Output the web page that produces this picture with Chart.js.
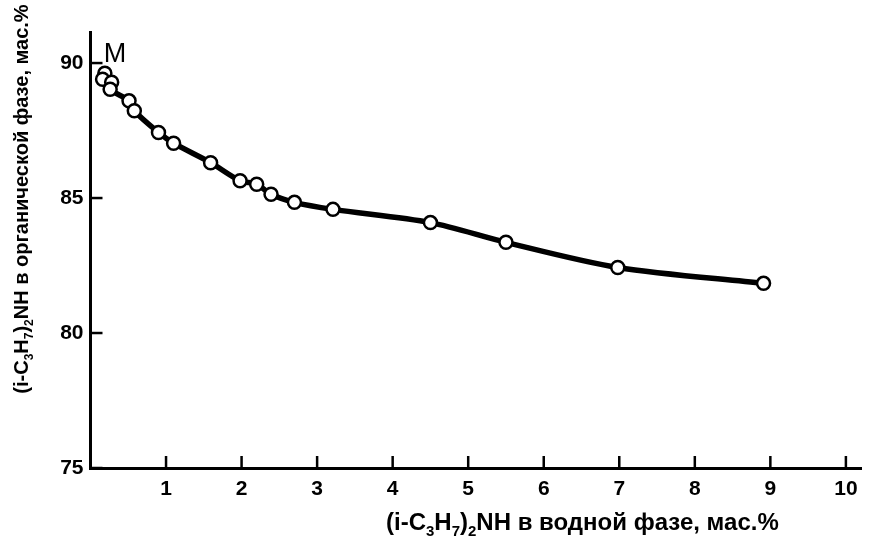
<!DOCTYPE html>
<html>
<head>
<meta charset="utf-8">
<script src="https://cdn.jsdelivr.net/npm/chart.js@4"></script>
<style>
  body { margin: 0; background: #fff; }
  canvas { display: block; }
</style>
</head>
<body>
<canvas id="chart" width="870" height="540"></canvas>
<script>
// points, in order along the curve
xValues = [0.19, 0.16, 0.28, 0.26, 0.51, 0.58, 0.90, 1.10, 1.59, 1.98, 2.20, 2.39, 2.70, 3.21, 4.50, 5.50, 6.98, 8.91];
yValues = [89.62, 89.40, 89.29, 89.03, 88.60, 88.23, 87.43, 87.03, 86.31, 85.64, 85.51, 85.14, 84.84, 84.58, 84.09, 83.36, 82.43, 81.84];
xTicks = [1, 2, 3, 4, 5, 6, 7, 8, 9, 10];
yTicks = [75, 80, 85, 90];

var points = [];
for (var i = 0; i < xValues.length; i++) {
  points.push({x: xValues[i], y: yValues[i]});
}

var FONT = '"Liberation Sans", Arial, sans-serif';

// text with subscripts: parts with sub=true are drawn smaller and lower
function drawRich(ctx, parts, x, y, size) {
  var cx = x;
  for (var i = 0; i < parts.length; i++) {
    var p = parts[i];
    ctx.font = 'bold ' + (p.sub ? Math.round(size * 0.62) : size) + 'px ' + FONT;
    ctx.fillText(p.t, cx, p.sub ? y + size * 0.25 : y);
    cx += ctx.measureText(p.t).width;
  }
  return cx - x;
}
function richWidth(ctx, parts, size) {
  var w = 0;
  for (var i = 0; i < parts.length; i++) {
    var p = parts[i];
    ctx.font = 'bold ' + (p.sub ? Math.round(size * 0.62) : size) + 'px ' + FONT;
    w += ctx.measureText(p.t).width;
  }
  return w;
}

xTitle = [{t: '(i-C'}, {t: '3', sub: true}, {t: 'H'}, {t: '7', sub: true}, {t: ')'}, {t: '2', sub: true}, {t: 'NH в водной фазе, мас.%'}];
yTitle = [{t: '(i-C'}, {t: '3', sub: true}, {t: 'H'}, {t: '7', sub: true}, {t: ')'}, {t: '2', sub: true}, {t: 'NH в органической фазе, мас.%'}];

var extras = {
  id: 'extras',
  afterDraw: function(chart) {
    var ctx = chart.ctx;
    var xs = chart.scales.x, ys = chart.scales.y;
    var area = chart.chartArea;
    ctx.save();
    ctx.strokeStyle = '#000';
    ctx.lineWidth = 2.5;
    // inward tick marks
    xTicks.forEach(function(v) {
      var px = xs.getPixelForValue(v);
      ctx.beginPath();
      ctx.moveTo(px, area.bottom);
      ctx.lineTo(px, area.bottom - 12);
      ctx.stroke();
    });
    yTicks.forEach(function(v) {
      var py = ys.getPixelForValue(v);
      ctx.beginPath();
      ctx.moveTo(area.left, py);
      ctx.lineTo(area.left + 12, py);
      ctx.stroke();
    });
    ctx.fillStyle = '#000';
    ctx.textBaseline = 'alphabetic';
    // point label M
    ctx.font = '27px ' + FONT;
    ctx.textAlign = 'left';
    ctx.fillText('M', xs.getPixelForValue(xValues[0]) - 1, ys.getPixelForValue(90) - 1);
    // axis titles
    drawRich(ctx, xTitle, 386, 530, 24);
    ctx.translate(28, 0);
    ctx.rotate(-Math.PI / 2);
    var w = richWidth(ctx, yTitle, 20);
    drawRich(ctx, yTitle, -199 - w / 2, 0, 20);
    ctx.restore();
  }
};

new Chart(document.getElementById('chart'), {
  type: 'line',
  data: {
    datasets: [{
      data: points,
      borderColor: '#000',
      borderWidth: 5.5,
      tension: 0.3,
      pointRadius: 6.5,
      pointBorderWidth: 2.5,
      pointBackgroundColor: '#fff',
      pointBorderColor: '#000'
    }]
  },
  options: {
    responsive: false,
    animation: false,
    events: [],
    layout: { padding: { top: 32, right: 2 } },
    plugins: { legend: { display: false }, tooltip: { enabled: false } },
    scales: {
      x: {
        type: 'linear',
        min: 0,
        max: 10.2,
        afterBuildTicks: function(scale) {
          scale.ticks = xTicks.map(function(v) { return {value: v}; });
        },
        afterFit: function(scale) { scale.height = 72; },
        grid: { display: false, drawTicks: false },
        border: { display: true, color: '#000', width: 3 },
        ticks: {
          color: '#000',
          padding: 9,
          maxRotation: 0,
          autoSkip: false,
          font: { family: FONT, size: 21, weight: 'bold' }
        }
      },
      y: {
        min: 75,
        max: 91.15,
        afterBuildTicks: function(scale) {
          scale.ticks = yTicks.map(function(v) { return {value: v}; });
        },
        afterFit: function(scale) { scale.width = 90.5; },
        grid: { display: false, drawTicks: false },
        border: { display: true, color: '#000', width: 3 },
        ticks: {
          color: '#000',
          padding: 7,
          font: { family: FONT, size: 21, weight: 'bold' }
        }
      }
    }
  },
  plugins: [extras]
});
</script>
</body>
</html>
